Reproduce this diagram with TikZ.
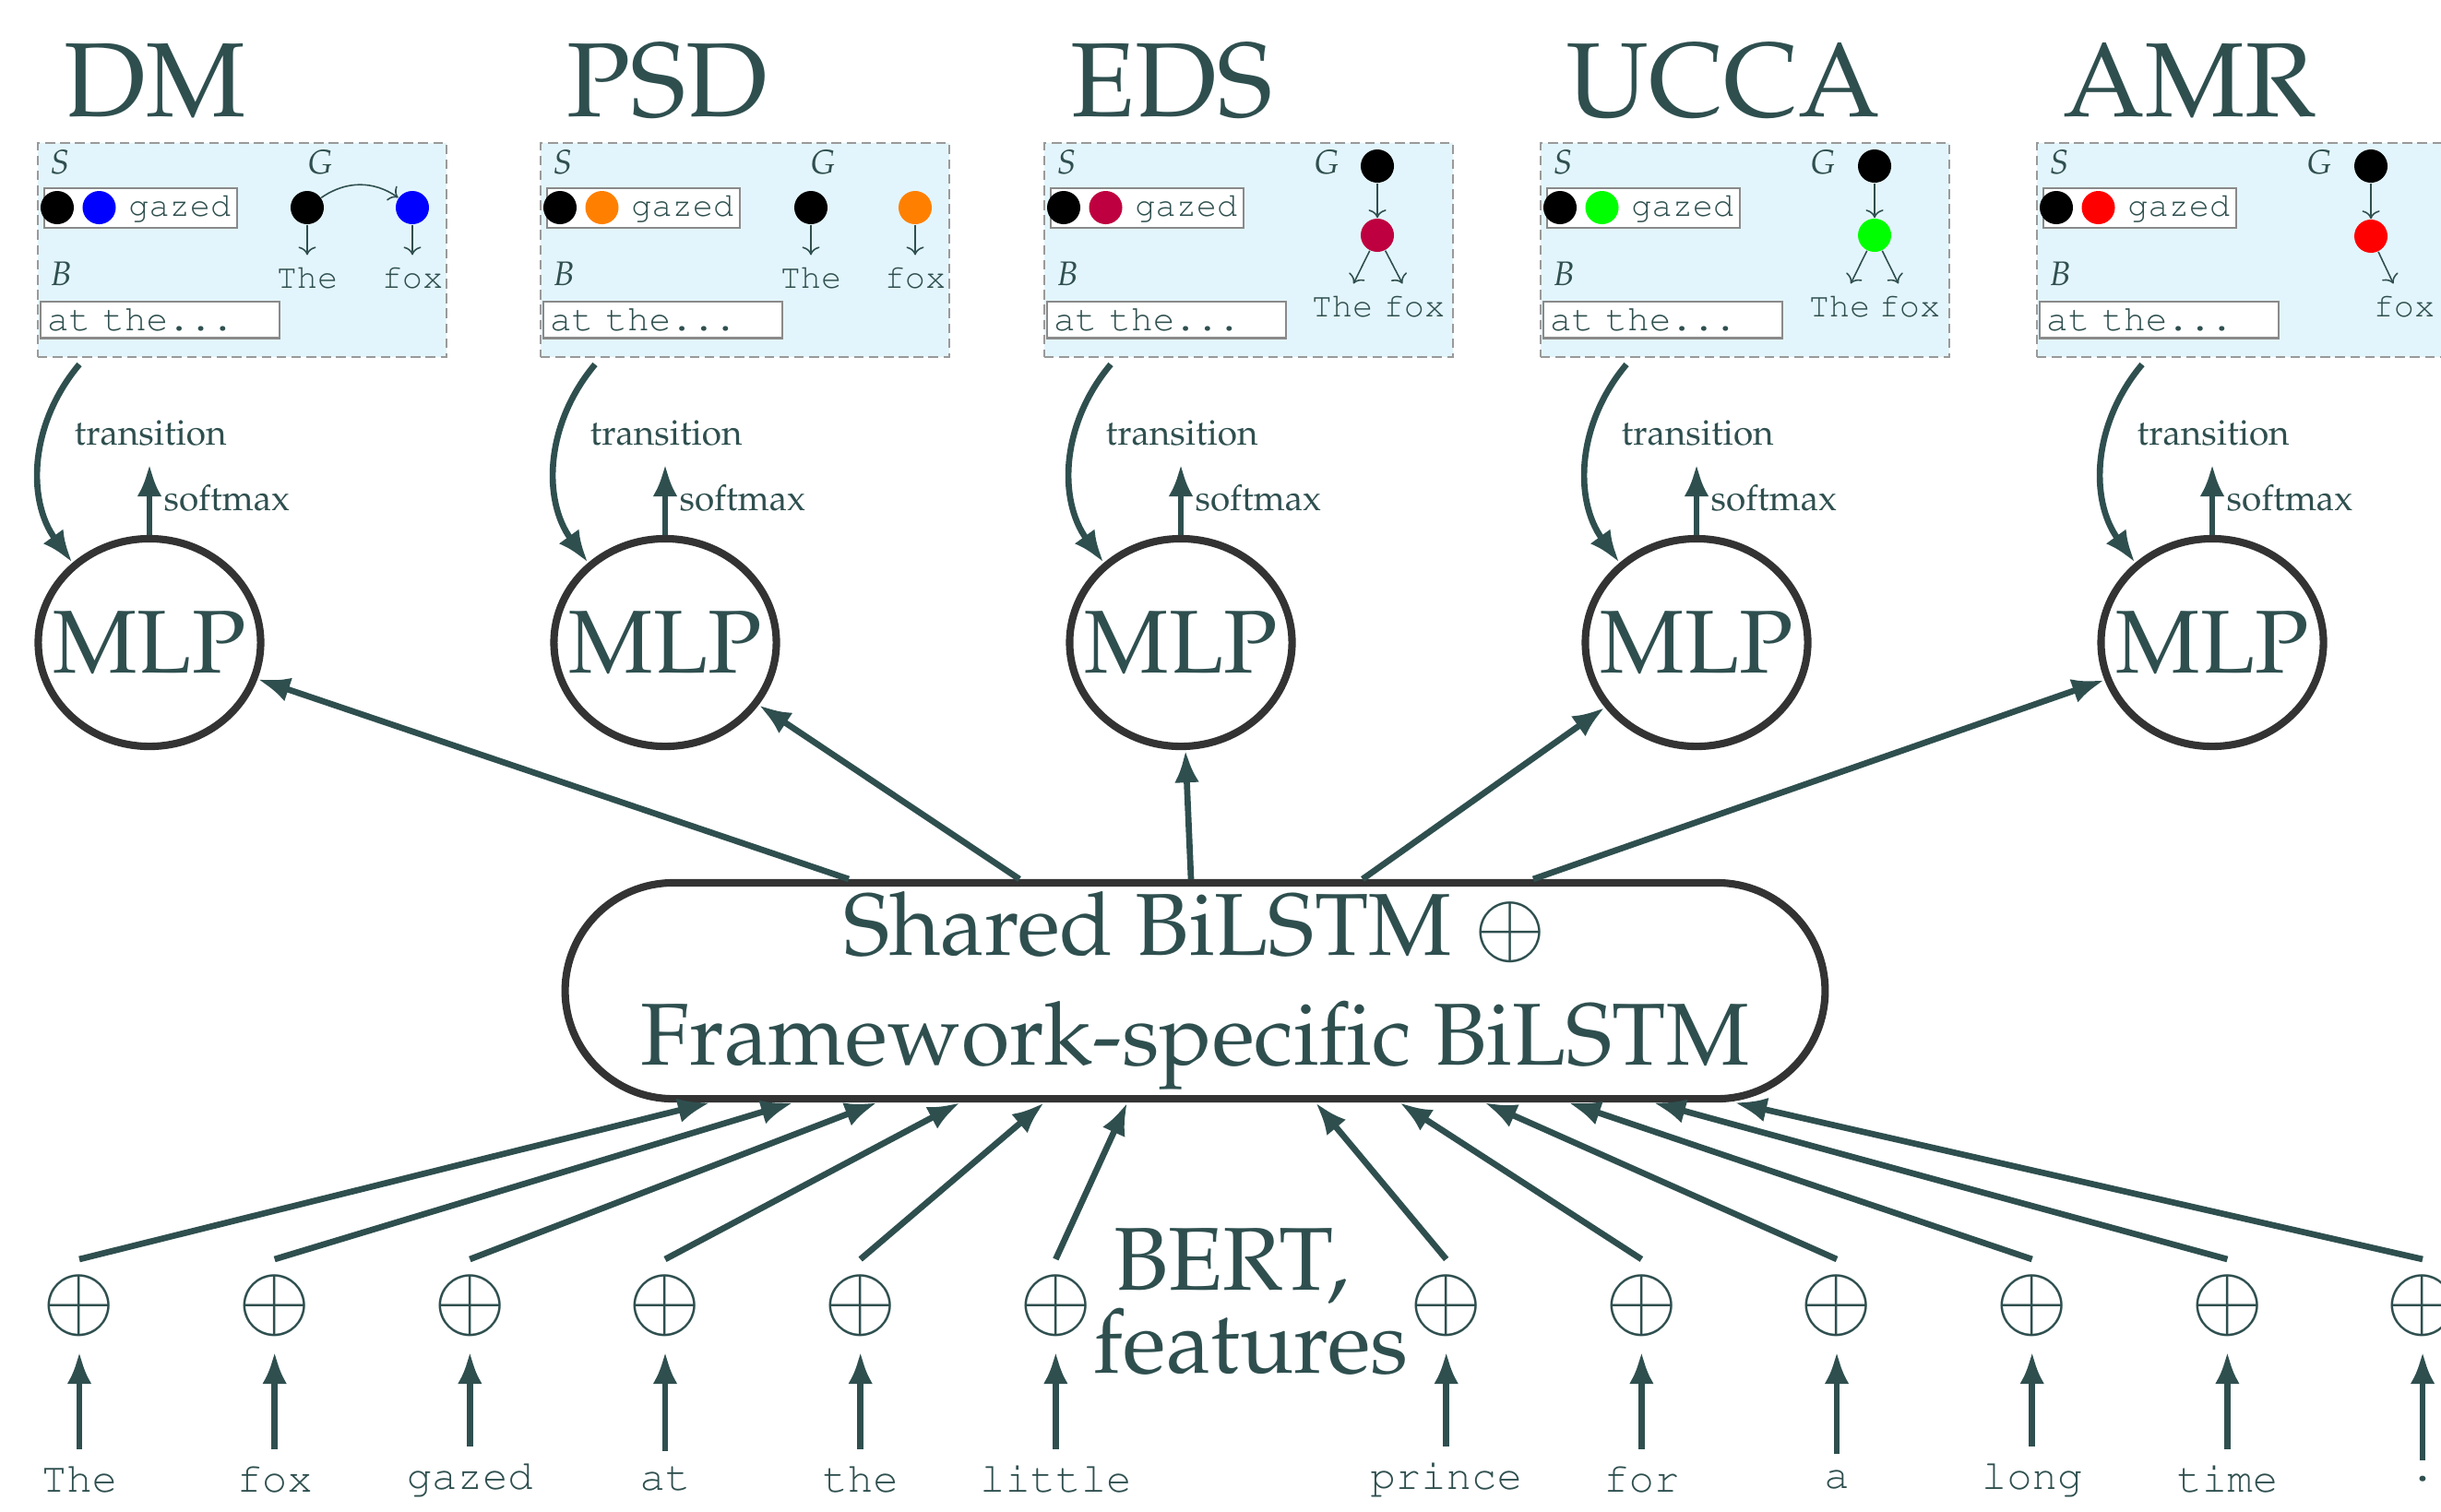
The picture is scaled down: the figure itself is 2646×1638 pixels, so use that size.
\documentclass[tikz,border=0pt]{standalone}
\usepackage[T1]{fontenc}
\usepackage{mathpazo}
\renewcommand\ttdefault{pcr}
\usetikzlibrary{arrows.meta,shapes.geometric,shapes.misc,calc}
\definecolor{slate}{HTML}{2F4F4F}
\definecolor{edgegray}{HTML}{333333}
\definecolor{boxfill}{RGB}{227,245,252}
\definecolor{boxline}{HTML}{9A9A9A}
\definecolor{stackline}{HTML}{8A8A8A}
\begin{document}
\begin{tikzpicture}[x=0.01cm,y=0.01cm,
  every node/.style={text=slate},
  conn/.style={draw=slate, line width=1.9pt, -{Latex[length=10pt,width=7.6pt]}},
  thinarrow/.style={draw=slate, line width=0.45pt, ->},
  title/.style={font=\fontsize{32.5}{36}\selectfont, anchor=base west, inner sep=0pt},
  big/.style={font=\fontsize{27.1}{33.6}\selectfont},
  small/.style={font=\fontsize{11}{13}\selectfont, inner sep=0pt, anchor=base west},
  mlp/.style={ellipse, draw=edgegray, line width=2.3pt, minimum width=2.41cm, minimum height=2.25cm, inner xsep=-6pt, inner ysep=0pt, font=\fontsize{27.5}{33.6}\selectfont},
  panel/.style={draw=boxline, fill=boxfill, dash pattern=on 3pt off 1.6pt, line width=0.5pt, minimum width=4.43cm, minimum height=2.32cm, anchor=north west, inner sep=0pt},
  stackbox/.style={draw=stackline, fill=white, line width=0.6pt, minimum height=0.36cm, inner sep=2pt, anchor=west, text width=1.95cm, align=right, font=\fontsize{10.5}{12}\selectfont\ttfamily},
  bufbox/.style={draw=stackline, fill=white, line width=0.6pt, minimum height=0.36cm, inner sep=2pt, anchor=west, text width=2.45cm, align=left, font=\fontsize{11.2}{12}\selectfont\ttfamily},
  dot/.style={circle, minimum size=0.36cm, inner sep=0pt},
  var/.style={font=\fontsize{10.5}{12}\selectfont, inner sep=0pt},
  glabel/.style={font=\fontsize{10.5}{12}\selectfont\ttfamily},
  word/.style={font=\fontsize{13}{15}\selectfont\ttfamily, inner sep=4.8pt},
  plus/.style={font=\fontsize{27.5}{33.6}\selectfont, inner sep=4.5pt},
  bertlabel/.style={font=\fontsize{27.5}{23.6}\selectfont, align=center, inner sep=0pt},
]
\path[use as bounding box] (0,0) rectangle (2646,-1638);
\clip (0,0) rectangle (2646,-1638);

% titles
\node[title] (tDM) at (69,-126) {DM};
\node[title] (tPSD) at (614,-126) {PSD};
\node[title] (tEDS) at (1160,-126) {EDS};
\node[title] (tUCCA) at (1698,-126) {UCCA};
\node[title] (tAMR) at (2236,-126) {AMR};

% panels
\foreach \n/\L/\c in {DM/40/blue, PSD/585/orange, EDS/1131/purple, UCCA/1669/green, AMR/2207/red} {
  \node[panel] (panel\n) at (\L,-154) {};
  \node[var] (S\n) at (\L+25,-176) {$S$};
  \node[var] (G\n) at (\L+307,-176) {$G$};
  \node[var] (B\n) at (\L+26,-297) {$B$};
  \node[stackbox] (stack\n) at (\L+7,-225.5) {gazed};
  \node[dot, fill=black] (sa\n) at (\L+22,-225) {};
  \node[dot, fill=\c] (sb\n) at (\L+67.5,-225) {};
  \node[bufbox] (buf\n) at (\L+3,-346.5) {at the...};
}

% graphs: DM
\node[dot, fill=black] (gaDM) at (333,-225) {};
\node[dot, fill=blue] (gbDM) at (447,-225) {};
\node[glabel] (laDM) at (333,-301) {The};
\node[glabel] (lbDM) at (447,-301) {fox};
\draw[thinarrow] (gaDM) -- (laDM);
\draw[thinarrow] (gbDM) -- (lbDM);
\draw[thinarrow] (gaDM) to[bend left=35] (gbDM);
% PSD
\node[dot, fill=black] (gaPSD) at (879,-225) {};
\node[dot, fill=orange] (gbPSD) at (992,-225) {};
\node[glabel] (laPSD) at (879,-301) {The};
\node[glabel] (lbPSD) at (992,-301) {fox};
\draw[thinarrow] (gaPSD) -- (laPSD);
\draw[thinarrow] (gbPSD) -- (lbPSD);
% EDS
\node[dot, fill=black] (gaEDS) at (1493,-180) {};
\node[dot, fill=purple] (gbEDS) at (1493,-255) {};
\node[glabel] (laEDS) at (1455,-332) {The};
\node[glabel] (lbEDS) at (1533,-332) {fox};
\draw[thinarrow] (gaEDS) -- (gbEDS);
\draw[thinarrow] (gbEDS) -- (laEDS);
\draw[thinarrow] (gbEDS) -- (lbEDS);
% UCCA
\node[dot, fill=black] (gaUCCA) at (2032,-180) {};
\node[dot, fill=green] (gbUCCA) at (2032,-255) {};
\node[glabel] (laUCCA) at (1994,-332) {The};
\node[glabel] (lbUCCA) at (2070,-332) {fox};
\draw[thinarrow] (gaUCCA) -- (gbUCCA);
\draw[thinarrow] (gbUCCA) -- (laUCCA);
\draw[thinarrow] (gbUCCA) -- (lbUCCA);
% AMR
\node[dot, fill=black] (gaAMR) at (2570,-180) {};
\node[dot, fill=red] (gbAMR) at (2570,-256) {};
\node[glabel, inner xsep=0.5pt] (lbAMR) at (2606,-332) {fox};
\draw[thinarrow] (gaAMR) -- (gbAMR);
\draw[thinarrow] (gbAMR) -- (lbAMR);

% MLPs
\foreach \n/\cx in {DM/162, PSD/721, EDS/1280, UCCA/1839, AMR/2398} {
  \node[mlp] (mlp\n) at (\cx,-696.5) {MLP};
  \coordinate (sm\n) at (\cx,-503);
  \draw[conn] (mlp\n.north) -- (sm\n);
  \node[small] (lsm\n) at (\cx+15,-553) {softmax};
  \coordinate (tr\n) at (\cx-76,-395);
  \draw[conn] (tr\n) to[bend right=38] (mlp\n.134);
  \node[small] (ltr\n) at (\cx-82,-482) {transition};
}

% shared BiLSTM
\node[rounded rectangle, draw=edgegray, line width=2.3pt, minimum width=13.65cm, minimum height=2.34cm, big, align=center, inner sep=0pt] (lstm) at (1295.5,-1074) {Shared BiLSTM $\oplus$\\Framework-specific BiLSTM};

\foreach \n/\dx in {DM/-375.5, PSD/-190.5, EDS/-4.5, UCCA/181.5, AMR/366.5} {
  \coordinate (o\n) at ($(lstm.north)+(\dx,0)$);
  \draw[conn] (o\n) -- (mlp\n);
}

% inputs
\foreach \i/\w/\tx in {0/The/770, 1/fox/860, 2/gazed/951, 3/at/1041, 4/the/1132, 5/little/1222, 7/prince/1426, 8/for/1517, 9/a/1609, 10/long/1700, 11/time/1792, 12/./1880} {
  \pgfmathsetmacro\xx{86+211.67*\i}
  \node[word] (w\i) at (\xx,-1603.5) {\w};
  \node[plus] (p\i) at (\xx,-1415) {$\oplus$};
  \draw[conn] (w\i) -- (p\i);
  \coordinate (t\i) at ($(lstm.south)+(\tx-1295.5,0)$);
  \draw[conn] (p\i.north) -- (t\i);
}

\node[bertlabel] (bert) at (1356,-1411) {BERT,\hspace*{0.42cm}\\features};
\end{tikzpicture}
\end{document}
